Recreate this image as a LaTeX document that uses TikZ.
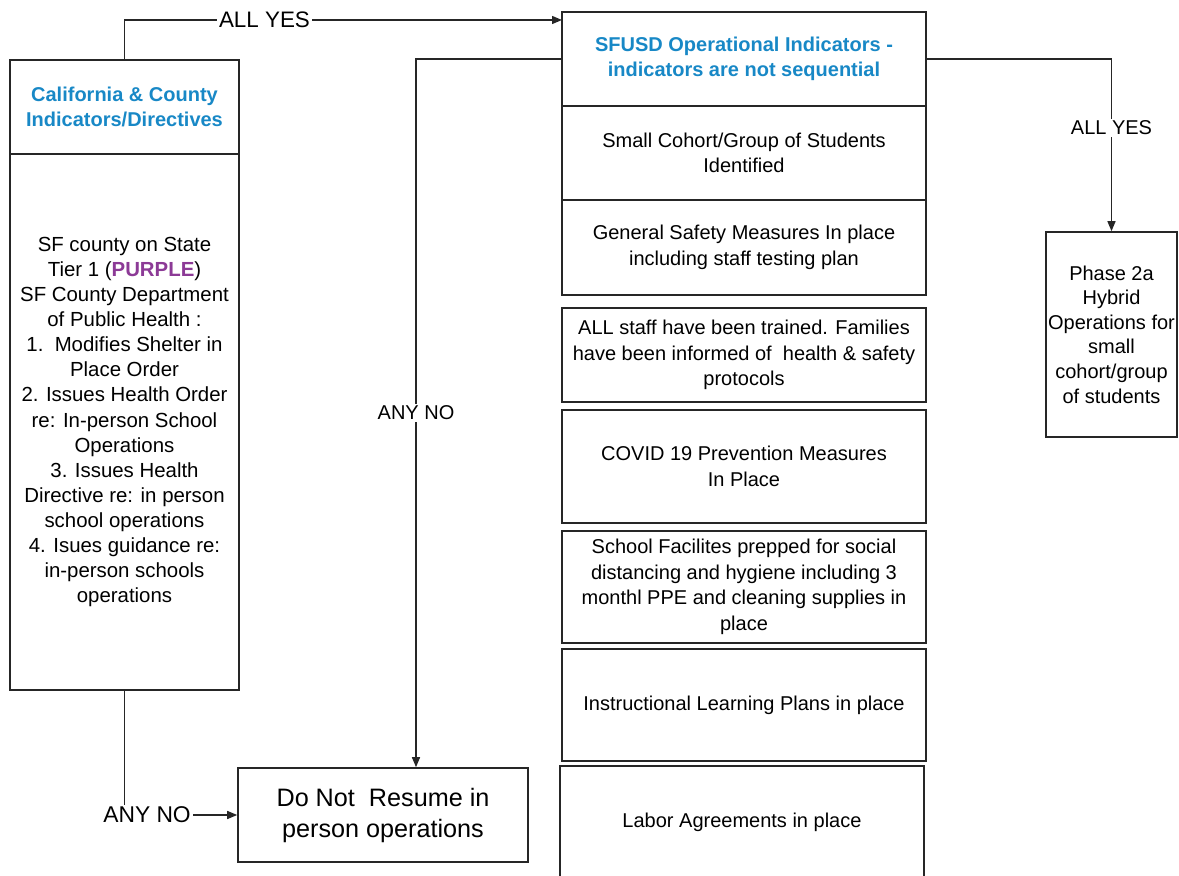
\documentclass[tikz,border=0pt]{standalone}
\usepackage{fontspec}
\setmainfont{Liberation Sans}
\usepackage{tikz}
\usetikzlibrary{arrows.meta}
\usepackage{xcolor}
\definecolor{sfblue}{RGB}{24,136,198}
\definecolor{tierpurple}{RGB}{140,58,150}

\begin{document}
\begin{tikzpicture}[x=0.5pt, y=-0.5pt,
    box/.style={draw=black!85, line width=0.8pt, align=center, inner sep=0pt,
        font=\fontsize{10}{12.8}\selectfont},
    hdrbox/.style={box, text=sfblue, font=\fontsize{10}{12.6}\selectfont\bfseries},
    lbl/.style={fill=white, inner sep=1pt, font=\fontsize{10}{12}\selectfont},
    arr/.style={draw=black!85, line width=0.7pt, -{Triangle[length=5pt, width=4pt]}}]
    \useasboundingbox (0,0) rectangle (1179,876);
    % Colonne gauche
    \node[hdrbox, minimum width=114.5pt, minimum height=47pt] (calhdr) at (124.5,107)
        {California \& County\\Indicators/Directives};
    \node[box, minimum width=114.5pt, minimum height=268pt,
        font=\fontsize{10.2}{12.55}\selectfont] (calbody) at (124.5,422)
        {SF county on State\\Tier 1 (\textcolor{tierpurple}{\textbf{PURPLE}})\\SF County Department\\of Public Health :\\1.\ \ Modifies Shelter in\\Place Order\\2. Issues Health Order\\re: In-person School\\Operations\\3. Issues Health\\Directive re: in person\\school operations\\4. Isues guidance re:\\in-person schools\\operations};
    % Indicateurs SFUSD
    \node[hdrbox, minimum width=182pt, minimum height=47pt] (hdr) at (744,59)
        {SFUSD Operational Indicators -\\indicators are not sequential};
    \node[box, minimum width=182pt, minimum height=47pt] (cohort) at (744,153)
        {Small Cohort/Group of Students\\Identified};
    \node[box, minimum width=182pt, minimum height=47.5pt] (safety) at (744,247.5)
        {General Safety Measures In place\\including staff testing plan};
    \node[box, minimum width=182pt, minimum height=47pt] (staff) at (744,355)
        {ALL staff have been trained. Families\\have been informed of\ \ health \& safety\\protocols};
    \node[box, minimum width=182pt, minimum height=56.5pt] (covid) at (744,466.5)
        {COVID 19 Prevention Measures\\In Place};
    \node[box, minimum width=182pt, minimum height=56pt] (facil) at (744,587)
        {School Facilites prepped for social\\distancing and hygiene including 3\\monthl PPE and cleaning supplies in\\place};
    \node[box, minimum width=182pt, minimum height=56pt] (learn) at (744,705)
        {Instructional Learning Plans in place};
    \node[box, minimum width=182pt, minimum height=56pt] (labor) at (742,822)
        {Labor Agreements in place};
    % Resultats
    \node[box, minimum width=65.5pt, minimum height=102.5pt,
        font=\fontsize{10}{12.3}\selectfont] (phase) at (1111.5,334.5)
        {Phase 2a\\Hybrid\\Operations for\\small\\cohort/group\\of students};
    \node[box, minimum width=145pt, minimum height=47pt,
        font=\fontsize{12.6}{15.5}\selectfont] (stop) at (383,815)
        {Do Not\ \ Resume in\\person operations};
    % Fleches
    \coordinate (hdrin) at (562,20);
    \coordinate (nocorner) at (416,59);
    \draw[arr] (calhdr.north) |- node[lbl, pos=0.66, font=\fontsize{11.2}{13}\selectfont] {ALL YES} (hdrin);
    \draw[arr] (hdr.east) -| node[lbl, pos=0.7] {ALL YES} (phase.north);
    \draw[arr] (hdr.west) -- (nocorner) -- node[lbl] {ANY NO} (nocorner |- stop.north);
    \draw[arr] (calbody.south) |- node[lbl, pos=0.6, font=\fontsize{11.4}{13}\selectfont] {ANY NO} (stop.west);
\end{tikzpicture}
\end{document}
